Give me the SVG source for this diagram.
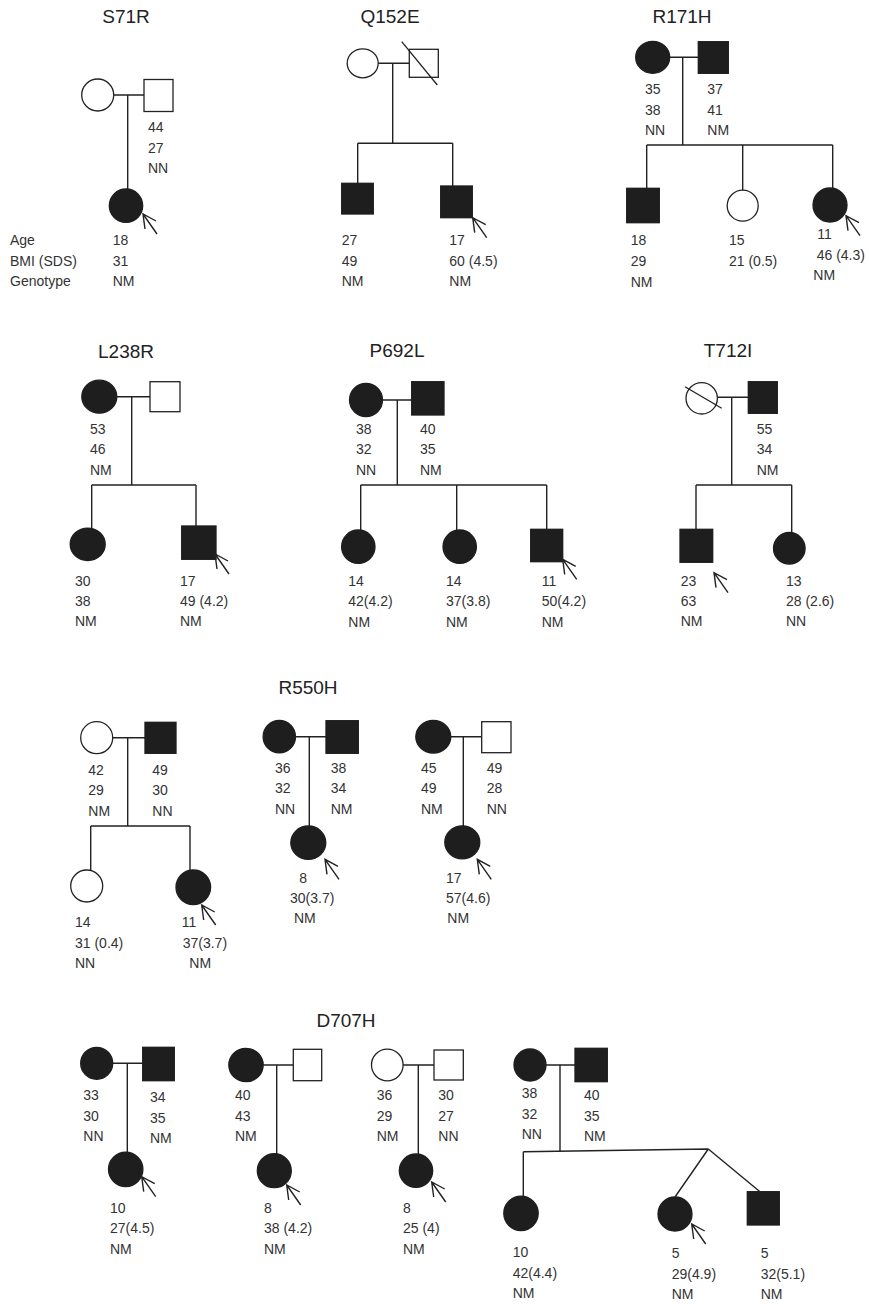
<svg xmlns="http://www.w3.org/2000/svg" width="869" height="1304" viewBox="0 0 869 1304">
<style>
.aff{fill:#1e1e1e;stroke:#1e1e1e;stroke-width:1.3}
.un{fill:#fff;stroke:#222;stroke-width:1.3}
.ln{stroke:#222;stroke-width:1.4;fill:none}
.sl{stroke:#222;stroke-width:1.3}
.t{font-family:"Liberation Sans",Arial,sans-serif;font-size:14px;fill:#333}
.ti{font-family:"Liberation Sans",Arial,sans-serif;font-size:19px;fill:#222;text-anchor:middle}
.ar{stroke:#222;stroke-width:1.4;fill:none}
</style>
<defs><path id="arr" class="ar" d="M0,0 L14,20 M2,15 L0,0 L13,7"/></defs>
<rect width="869" height="1304" fill="#fff"/>

<g id="titles">
<text class="ti" x="126" y="23">S71R</text>
<text class="ti" x="390" y="23">Q152E</text>
<text class="ti" x="682" y="23">R171H</text>
<text class="ti" x="126" y="358">L238R</text>
<text class="ti" x="397" y="357">P692L</text>
<text class="ti" x="728" y="357">T712I</text>
<text class="ti" x="308" y="694">R550H</text>
<text class="ti" x="346" y="1027">D707H</text>
</g>

<g id="connectors">
<path class="ln" d="M114,95 H144 M127.7,95 V189"/>
<path class="ln" d="M378,63.3 H409.3 M392.7,63.3 V143.3 M357.7,143.3 H452.7 M357.7,143.3 V183.3 M452.7,143.3 V186"/>
<path class="ln" d="M669.7,57.3 H698.3 M682.7,57.3 V145 M646.7,145 H832.7 M646.7,145 V188.3 M742.7,145 V190.2 M832.7,145 V188.3"/>
<path class="ln" d="M117,396.7 H150 M131.7,396.7 V485 M91.7,485 H196 M91.7,485 V528.3 M196,485 V526"/>
<path class="ln" d="M382.5,400 H411.7 M397.3,400 V485 M360.7,485 H546.7 M360.7,485 V530 M456.7,485 V530 M546.7,485 V529.3"/>
<path class="ln" d="M717.4,397.3 H748.3 M731.7,397.3 V485 M696,485 H791.7 M696,485 V529.3 M791.7,485 V532.7"/>
<path class="ln" d="M112.7,737.7 H145 M127.7,737.7 V826 M90.7,826 H190 M90.7,826 V870 M190,826 V870"/>
<path class="ln" d="M295.5,736.7 H326 M309.3,736.7 V826"/>
<path class="ln" d="M450.8,736.7 H481.7 M463.3,736.7 V826"/>
<path class="ln" d="M112.7,1063.3 H142.7 M127.3,1063.3 V1152.7"/>
<path class="ln" d="M263.2,1065 H293.3 M276.7,1065 V1154"/>
<path class="ln" d="M403.1,1065 H434 M418.3,1065 V1154"/>
<path class="ln" d="M546,1065 H575 M560,1065 V1151.5 M523.3,1151.7 L708.3,1149 M523.3,1151.7 V1196.5 M708.3,1149 L675,1197 M708.3,1149 L760,1191.7"/>
</g>

<g id="legend">
<text class="t" x="10" y="245">Age</text>
<text class="t" x="10" y="265.7">BMI (SDS)</text>
<text class="t" x="10" y="285.7">Genotype</text>
</g>

<!-- S71R -->
<g id="s71r-mother"><circle class="un" cx="97.7" cy="95" r="16"/></g>
<g id="s71r-father"><rect class="un" x="144" y="79.5" width="29" height="32"/>
<text class="t" x="148" y="132">44</text><text class="t" x="148" y="152.5">27</text><text class="t" x="148" y="173">NN</text></g>
<g id="s71r-proband"><circle class="aff" cx="126" cy="205.7" r="16.7"/><use href="#arr" x="143" y="214"/>
<text class="t" x="112.7" y="245">18</text><text class="t" x="112.7" y="265.7">31</text><text class="t" x="112.7" y="285.7">NM</text></g>

<!-- Q152E -->
<g id="q152e-mother"><ellipse class="un" cx="362.7" cy="63.3" rx="15.5" ry="14.5"/></g>
<g id="q152e-father"><rect class="un" x="409.3" y="49.3" width="29" height="28"/><line class="sl" x1="401.7" y1="41.7" x2="437.3" y2="85"/></g>
<g id="q152e-son1"><rect class="aff" x="341.7" y="183.3" width="31.6" height="30.7"/>
<text class="t" x="341.7" y="245">27</text><text class="t" x="341.7" y="265.7">49</text><text class="t" x="341.7" y="285.7">NM</text></g>
<g id="q152e-proband"><rect class="aff" x="440.7" y="186" width="31.6" height="31.7"/><use href="#arr" x="472.7" y="217.7"/>
<text class="t" x="449.3" y="245">17</text><text class="t" x="449.3" y="265.7">60 (4.5)</text><text class="t" x="449.3" y="285.7">NM</text></g>

<!-- R171H -->
<g id="r171h-mother"><ellipse class="aff" cx="652.7" cy="57.3" rx="17" ry="16"/>
<text class="t" x="645" y="94.3">35</text><text class="t" x="645" y="115">38</text><text class="t" x="645" y="135">NN</text></g>
<g id="r171h-father"><rect class="aff" x="698.3" y="41.7" width="30" height="31.6"/>
<text class="t" x="707.3" y="94.3">37</text><text class="t" x="707.3" y="115">41</text><text class="t" x="707.3" y="135">NM</text></g>
<g id="r171h-son"><rect class="aff" x="626.7" y="188.3" width="32.6" height="34.4"/>
<text class="t" x="630.7" y="245">18</text><text class="t" x="630.7" y="265.7">29</text><text class="t" x="630.7" y="286.7">NM</text></g>
<g id="r171h-daughter"><circle class="un" cx="742.7" cy="205.7" r="15.5"/>
<text class="t" x="729" y="245">15</text><text class="t" x="729" y="265.7">21 (0.5)</text></g>
<g id="r171h-proband"><circle class="aff" cx="830" cy="205" r="17"/><use href="#arr" x="846" y="215.7"/>
<text class="t" x="817.3" y="239.3">11</text><text class="t" x="816.7" y="260">46 (4.3)</text><text class="t" x="813.3" y="280">NM</text></g>

<!-- L238R -->
<g id="l238r-mother"><ellipse class="aff" cx="99.3" cy="396.7" rx="17.5" ry="16.5"/>
<text class="t" x="90" y="434">53</text><text class="t" x="90" y="454">46</text><text class="t" x="90" y="475">NM</text></g>
<g id="l238r-father"><rect class="un" x="150" y="381.7" width="30" height="30"/></g>
<g id="l238r-daughter"><ellipse class="aff" cx="87.7" cy="544.3" rx="17.5" ry="16.2"/>
<text class="t" x="75" y="586">30</text><text class="t" x="75" y="606">38</text><text class="t" x="75" y="626">NM</text></g>
<g id="l238r-proband"><rect class="aff" x="181.7" y="526" width="34.3" height="33.3"/><use href="#arr" x="215" y="554"/>
<text class="t" x="180" y="586">17</text><text class="t" x="180" y="606">49 (4.2)</text><text class="t" x="180" y="626">NM</text></g>

<!-- P692L -->
<g id="p692l-mother"><circle class="aff" cx="366" cy="400" r="16.5"/>
<text class="t" x="356" y="434">38</text><text class="t" x="356" y="454">32</text><text class="t" x="356" y="475">NN</text></g>
<g id="p692l-father"><rect class="aff" x="411.7" y="381.7" width="32.3" height="33.3"/>
<text class="t" x="420" y="434">40</text><text class="t" x="420" y="454">35</text><text class="t" x="420" y="475">NM</text></g>
<g id="p692l-daughter1"><circle class="aff" cx="358.3" cy="546.7" r="16.7"/>
<text class="t" x="348.3" y="586">14</text><text class="t" x="348.3" y="606">42(4.2)</text><text class="t" x="348.3" y="626.7">NM</text></g>
<g id="p692l-daughter2"><circle class="aff" cx="459.7" cy="546.7" r="16.7"/>
<text class="t" x="446" y="586">14</text><text class="t" x="446" y="606">37(3.8)</text><text class="t" x="446" y="626.7">NM</text></g>
<g id="p692l-proband"><rect class="aff" x="530.7" y="529.3" width="32" height="32.4"/><use href="#arr" x="562.7" y="559.3"/>
<text class="t" x="541.7" y="586">11</text><text class="t" x="541.7" y="606">50(4.2)</text><text class="t" x="541.7" y="626.7">NM</text></g>

<!-- T712I -->
<g id="t712i-mother"><circle class="un" cx="701.7" cy="398.3" r="15.7"/><line class="sl" x1="685" y1="386.7" x2="721.7" y2="408.3"/></g>
<g id="t712i-father"><rect class="aff" x="748.3" y="381.7" width="29" height="31.6"/>
<text class="t" x="756.7" y="434">55</text><text class="t" x="756.7" y="454">34</text><text class="t" x="756.7" y="475">NM</text></g>
<g id="t712i-proband"><rect class="aff" x="680" y="529.3" width="32.7" height="33"/><use href="#arr" x="714" y="572.7"/>
<text class="t" x="680.7" y="586">23</text><text class="t" x="680.7" y="606">63</text><text class="t" x="680.7" y="626">NM</text></g>
<g id="t712i-daughter"><circle class="aff" cx="789.3" cy="548.3" r="15.8"/>
<text class="t" x="786" y="586">13</text><text class="t" x="786" y="606">28 (2.6)</text><text class="t" x="786" y="626">NN</text></g>

<!-- R550H family 1 -->
<g id="r550h1-mother"><circle class="un" cx="96.7" cy="737.7" r="16"/>
<text class="t" x="88.3" y="775">42</text><text class="t" x="88.3" y="795">29</text><text class="t" x="88.3" y="816">NM</text></g>
<g id="r550h1-father"><rect class="aff" x="145" y="722.3" width="31" height="31"/>
<text class="t" x="152.3" y="775">49</text><text class="t" x="152.3" y="795">30</text><text class="t" x="152.3" y="816">NN</text></g>
<g id="r550h1-daughter"><circle class="un" cx="86.7" cy="886" r="16"/>
<text class="t" x="75" y="927.3">14</text><text class="t" x="75" y="948.3">31 (0.4)</text><text class="t" x="75" y="968.3">NN</text></g>
<g id="r550h1-proband"><circle class="aff" cx="193.3" cy="887.3" r="17.3"/><use href="#arr" x="201.7" y="905"/>
<text class="t" x="181.7" y="927.3">11</text><text class="t" x="182.7" y="948.3">37(3.7)</text><text class="t" x="189.3" y="968.3">NM</text></g>

<!-- R550H family 2 -->
<g id="r550h2-mother"><circle class="aff" cx="279.3" cy="736.7" r="16.2"/>
<text class="t" x="275" y="773.3">36</text><text class="t" x="275" y="793.3">32</text><text class="t" x="275" y="814">NN</text></g>
<g id="r550h2-father"><rect class="aff" x="326" y="720.7" width="32.3" height="32.6"/>
<text class="t" x="330.7" y="773.3">38</text><text class="t" x="330.7" y="793.3">34</text><text class="t" x="330.7" y="814">NM</text></g>
<g id="r550h2-proband"><ellipse class="aff" cx="308.3" cy="842.7" rx="17.5" ry="16.7"/><use href="#arr" x="325" y="859.3"/>
<text class="t" x="299.3" y="883.3">8</text><text class="t" x="290" y="903.3">30(3.7)</text><text class="t" x="294" y="923.3">NM</text></g>

<!-- R550H family 3 -->
<g id="r550h3-mother"><ellipse class="aff" cx="433.3" cy="736.7" rx="17.5" ry="16.3"/>
<text class="t" x="421" y="773.3">45</text><text class="t" x="421" y="793.3">49</text><text class="t" x="421" y="814">NM</text></g>
<g id="r550h3-father"><rect class="un" x="481.7" y="721.7" width="29.3" height="31"/>
<text class="t" x="486.7" y="773.3">49</text><text class="t" x="486.7" y="793.3">28</text><text class="t" x="486.7" y="814">NN</text></g>
<g id="r550h3-proband"><ellipse class="aff" cx="462.3" cy="842.3" rx="17.5" ry="16.5"/><use href="#arr" x="477.3" y="859.3"/>
<text class="t" x="446" y="883.3">17</text><text class="t" x="446" y="903.3">57(4.6)</text><text class="t" x="447.3" y="923.3">NM</text></g>

<!-- D707H family 1 -->
<g id="d707h1-mother"><circle class="aff" cx="96.7" cy="1063.3" r="16"/>
<text class="t" x="83.3" y="1100">33</text><text class="t" x="83.3" y="1120.7">30</text><text class="t" x="83.3" y="1140.7">NN</text></g>
<g id="d707h1-father"><rect class="aff" x="142.7" y="1047.3" width="31.6" height="33.4"/>
<text class="t" x="150" y="1101.7">34</text><text class="t" x="150" y="1122.7">35</text><text class="t" x="150" y="1142.7">NM</text></g>
<g id="d707h1-proband"><circle class="aff" cx="125.7" cy="1169.3" r="17.2"/><use href="#arr" x="141.7" y="1176.7"/>
<text class="t" x="110" y="1213">10</text><text class="t" x="110" y="1233">27(4.5)</text><text class="t" x="110" y="1254">NM</text></g>

<!-- D707H family 2 -->
<g id="d707h2-mother"><ellipse class="aff" cx="246" cy="1065" rx="17.2" ry="16.7"/>
<text class="t" x="235" y="1100">40</text><text class="t" x="235" y="1120.7">43</text><text class="t" x="235" y="1140.7">NM</text></g>
<g id="d707h2-father"><rect class="un" x="293.3" y="1049.3" width="28.4" height="31.4"/></g>
<g id="d707h2-proband"><circle class="aff" cx="274.3" cy="1170.7" r="17"/><use href="#arr" x="286.7" y="1185"/>
<text class="t" x="264" y="1213">8</text><text class="t" x="264" y="1233">38 (4.2)</text><text class="t" x="264" y="1254">NM</text></g>

<!-- D707H family 3 -->
<g id="d707h3-mother"><circle class="un" cx="387.3" cy="1065" r="15.8"/>
<text class="t" x="376.7" y="1100">36</text><text class="t" x="376.7" y="1120.7">29</text><text class="t" x="376.7" y="1140.7">NM</text></g>
<g id="d707h3-father"><rect class="un" x="434" y="1050" width="29.3" height="30"/>
<text class="t" x="438.3" y="1100">30</text><text class="t" x="438.3" y="1120.7">27</text><text class="t" x="438.3" y="1140.7">NN</text></g>
<g id="d707h3-proband"><circle class="aff" cx="416" cy="1170.7" r="16.7"/><use href="#arr" x="431.7" y="1182"/>
<text class="t" x="403" y="1213">8</text><text class="t" x="403" y="1233">25 (4)</text><text class="t" x="403" y="1254">NM</text></g>

<!-- D707H family 4 -->
<g id="d707h4-mother"><circle class="aff" cx="530" cy="1065" r="16"/>
<text class="t" x="521.7" y="1098.3">38</text><text class="t" x="521.7" y="1119">32</text><text class="t" x="521.7" y="1139.3">NN</text></g>
<g id="d707h4-father"><rect class="aff" x="575" y="1048.3" width="32.3" height="33.4"/>
<text class="t" x="584" y="1100">40</text><text class="t" x="584" y="1120.7">35</text><text class="t" x="584" y="1140.7">NM</text></g>
<g id="d707h4-daughter"><circle class="aff" cx="521" cy="1213.3" r="17.2"/>
<text class="t" x="512.7" y="1257.3">10</text><text class="t" x="512.7" y="1278.3">42(4.4)</text><text class="t" x="512.7" y="1298.3">NM</text></g>
<g id="d707h4-proband"><circle class="aff" cx="675" cy="1214" r="17"/><use href="#arr" x="691.7" y="1224"/>
<text class="t" x="671.7" y="1258.3">5</text><text class="t" x="671.7" y="1279">29(4.9)</text><text class="t" x="671.7" y="1299">NM</text></g>
<g id="d707h4-twin-son"><rect class="aff" x="747.3" y="1191.7" width="32" height="33.3"/>
<text class="t" x="760.7" y="1258.3">5</text><text class="t" x="760.7" y="1279">32(5.1)</text><text class="t" x="760.7" y="1299">NM</text></g>
</svg>
